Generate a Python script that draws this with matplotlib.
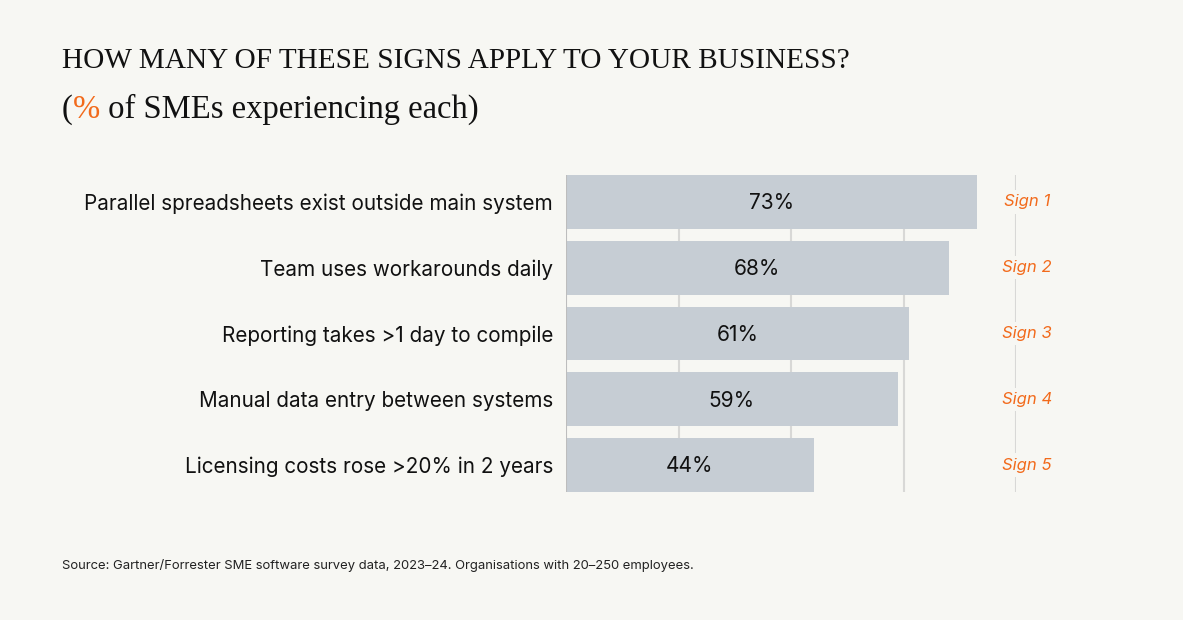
import matplotlib
matplotlib.use("Agg")
import matplotlib.pyplot as plt

categories = [
    "Parallel spreadsheets exist outside main system",
    "Team uses workarounds daily",
    "Reporting takes >1 day to compile",
    "Manual data entry between systems",
    "Licensing costs rose >20% in 2 years",
]
values = [73, 68, 61, 59, 44]
sign_labels = ["Sign 1", "Sign 2", "Sign 3", "Sign 4", "Sign 5"]
grid_ticks = [20, 40, 60, 80]

BG = "#f7f7f3"
BAR = "#c6cdd4"
ORANGE = "#f26a1b"
GRID = "#d8d8d6"
TEXT = "#111111"

W, H = 1183, 620
fig = plt.figure(figsize=(W / 100, H / 100), dpi=100, facecolor=BG)

ax = fig.add_axes([566 / W, 1 - 492 / H, (1016 - 566) / W, (492 - 175) / H])
ax.set_facecolor(BG)
ax.set_xlim(0, 80)
ax.set_ylim(len(values) - 1 + 0.41, -0.41)

for g in grid_ticks:
    ax.axvline(g, color=GRID, lw=1.5, zorder=0)
ax.axvline(0, color="#bdbdbd", lw=1.5, zorder=3)

ypos = list(range(len(values)))
ax.barh(ypos, values, height=0.82, color=BAR, zorder=2)

for y, v in zip(ypos, values):
    ax.text(v / 2, y + 0.02, f"{v}%", ha="center", va="center", fontsize=15,
            family="Inter", color=TEXT, zorder=4)

for y, s in zip(ypos, sign_labels):
    ax.text(80 + 1.9, y, s, ha="center", va="center", fontsize=12,
            family=["Inter", "Roboto"], style="italic", color=ORANGE, zorder=4,
            bbox=dict(facecolor=BG, edgecolor="none", pad=3), clip_on=False)

ax.set_yticks(ypos)
ax.set_yticklabels(categories, family="Inter", fontsize=14.9, color=TEXT)
ax.tick_params(axis="y", length=0, pad=9.4)
ax.set_xticks([])
for sp in ax.spines.values():
    sp.set_visible(False)

fig.text(62 / W, 1 - 68 / H, "HOW MANY OF THESE SIGNS APPLY TO YOUR BUSINESS?",
         family="Liberation Serif", fontsize=21.1, color=TEXT, ha="left", va="baseline")
SUB = 23.5
t1 = fig.text(62 / W, 1 - 118 / H, "(", family="Liberation Serif", fontsize=SUB,
              color=TEXT, ha="left", va="baseline")
fig.canvas.draw()
r = fig.canvas.get_renderer()
bb = t1.get_window_extent(r)
t2 = fig.text(bb.x1 / W, 1 - 118 / H, "%", family="Liberation Serif", fontsize=SUB,
              color=ORANGE, ha="left", va="baseline")
bb2 = t2.get_window_extent(r)
fig.text(bb2.x1 / W, 1 - 118 / H, " of SMEs experiencing each)", family="Liberation Serif",
         fontsize=SUB, color=TEXT, ha="left", va="baseline")

fig.text(62 / W, 1 - 569 / H,
         "Source: Gartner/Forrester SME software survey data, 2023\u201324. Organisations with 20\u2013250 employees.",
         family="Inter", fontsize=9.4, color="#222222", ha="left", va="baseline")

fig.savefig("out.png", dpi=100, facecolor=BG)
